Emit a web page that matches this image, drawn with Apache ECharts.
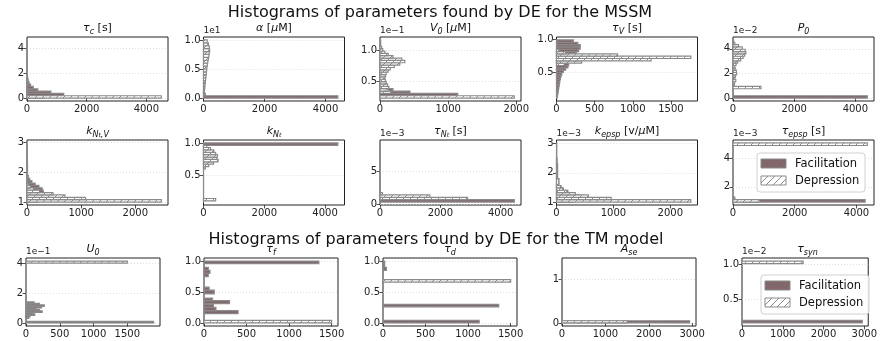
<!DOCTYPE html>
<html><head><meta charset="utf-8">
<script src="https://cdn.jsdelivr.net/npm/echarts@6/dist/echarts.min.js"></script>
<style>html,body{margin:0;padding:0;background:#fff}#c{width:880px;height:341px}</style>
</head><body><div id="c"></div>
<script>
// ---------- DATA (display units, bins as [low, high, count]) ----------
const tauC_fac = [[0,0.186,600],[0.186,0.372,1230],[0.372,0.558,800],[0.558,0.744,360],[0.744,0.93,210],[0.93,1.116,120],[1.116,1.302,70],[1.302,1.488,40],[1.488,1.674,25],[1.674,1.86,12],[1.86,2.046,6],[2.046,2.232,3],[2.232,4.65,1]];
const tauC_dep = [[0,0.186,4500]];
const alpha_fac = [[0,0.04,4400],[0.04,0.08,60],[0.08,0.12,20]];
const alpha_dep = [[0.05,0.1,20],[0.1,0.15,30],[0.15,0.2,40],[0.2,0.25,50],[0.25,0.3,60],[0.3,0.35,70],[0.35,0.4,80],[0.4,0.45,90],[0.45,0.5,100],[0.5,0.55,110],[0.55,0.6,125],[0.6,0.65,140],[0.65,0.7,160],[0.7,0.75,175],[0.75,0.8,190],[0.8,0.85,200],[0.85,0.9,190],[0.9,0.95,160],[0.95,1.0,120]];
const v0_fac = [[0.262,0.3,1140],[0.3,0.338,440],[0.338,0.376,190],[0.376,0.414,80],[0.414,0.452,40]];
const v0_dep = [[0.224,0.262,1970],[0.3,0.338,160],[0.338,0.376,120],[0.376,0.414,130],[0.414,0.452,110],[0.452,0.49,90],[0.49,0.528,80],[0.528,0.566,70],[0.566,0.604,80],[0.604,0.642,90],[0.642,0.68,120],[0.68,0.718,150],[0.718,0.756,210],[0.756,0.794,290],[0.794,0.832,364],[0.832,0.87,320],[0.87,0.908,190],[0.908,0.946,120],[0.946,0.984,70],[0.984,1.022,40],[1.022,1.06,25],[1.06,1.163,10]];
const tauV_fac = [[0.119,0.154,10],[0.154,0.189,15],[0.189,0.224,20],[0.224,0.259,25],[0.259,0.294,30],[0.294,0.329,35],[0.329,0.364,40],[0.364,0.398,45],[0.398,0.433,50],[0.433,0.468,60],[0.468,0.503,70],[0.503,0.538,90],[0.538,0.573,120],[0.573,0.608,150],[0.608,0.643,160],[0.643,0.678,150],[0.678,0.713,180],[0.713,0.748,200],[0.748,0.783,230],[0.783,0.817,260],[0.817,0.852,290],[0.852,0.887,310],[0.887,0.922,310],[0.922,0.957,280],[0.957,0.992,220]];
const tauV_dep = [[0.608,0.643,100],[0.643,0.678,330],[0.678,0.713,1240],[0.713,0.748,1760],[0.748,0.783,800],[0.783,0.817,120],[0.817,0.852,40]];
const p0_fac = [[0,0.19,4390]];
const p0_dep = [[0.76,0.95,915],[0.95,1.14,40],[1.14,1.33,50],[1.33,1.51,90],[1.51,1.7,60],[1.7,1.89,80],[1.89,2.08,120],[2.08,2.27,110],[2.27,2.46,70],[2.46,2.65,60],[2.65,2.84,100],[2.84,3.03,150],[3.03,3.22,250],[3.22,3.4,330],[3.4,3.59,380],[3.59,3.78,420],[3.78,3.97,400],[3.97,4.16,300],[4.16,4.35,180],[4.35,4.54,60],[4.54,4.73,20]];
const kNtV_fac = [[1.0,1.08,200],[1.08,1.16,350],[1.16,1.24,330],[1.24,1.32,310],[1.32,1.4,300],[1.4,1.48,280],[1.48,1.56,220],[1.56,1.64,150],[1.64,1.72,90],[1.72,1.8,50],[1.8,1.9,25],[1.9,2.3,10],[2.3,2.8,4]];
const kNtV_dep = [[1.0,1.08,2480],[1.08,1.16,1080],[1.16,1.24,700],[1.24,1.32,480],[1.32,1.4,230],[1.4,1.48,120],[1.48,1.56,60],[1.56,1.64,30],[1.64,1.8,15],[1.8,2.6,5],[2.6,2.99,2]];
const kNt_fac = [[0.967,1.004,4420],[0.086,0.967,3]];
const kNt_dep = [[0.104,0.141,400],[0.6,0.637,60],[0.637,0.674,170],[0.674,0.711,330],[0.711,0.748,480],[0.748,0.785,440],[0.785,0.822,460],[0.822,0.859,400],[0.859,0.896,340],[0.896,0.933,230],[0.933,0.967,110]];
const tauNt_fac = [[0.34,0.695,4450],[0.695,9.2,3]];
const tauNt_dep = [[0.695,1.05,2900],[1.05,1.405,1650],[1.405,1.76,80]];
const kEpsp_fac = [[1.01,1.09,300],[1.09,1.17,500],[1.17,1.25,400],[1.25,1.33,300],[1.33,1.41,200],[1.41,1.49,120],[1.49,1.57,80],[1.57,1.8,40],[1.8,2.5,10]];
const kEpsp_dep = [[1.01,1.09,2360],[1.09,1.17,960],[1.17,1.25,560],[1.25,1.33,330],[1.33,1.41,180],[1.41,1.49,110],[1.49,1.57,70],[1.57,1.8,40],[1.8,2.3,20],[2.3,3.01,5]];
const tauEpsp_fac = [[0.93,1.1,4280],[1.1,1.27,60]];
const tauEpsp_dep = [[4.9,5.08,4350],[0.93,1.1,870]];
const u0_fac = [[0,0.1,1890],[0.3,0.4,40],[0.4,0.5,60],[0.5,0.6,130],[0.6,0.7,100],[0.7,0.8,240],[0.8,0.9,200],[0.9,1.0,150],[1.0,1.1,230],[1.1,1.2,270],[1.2,1.3,200],[1.3,1.4,120]];
const u0_dep = [[4.0,4.13,1500]];
const tauF_fac = [[0.96,1.0,1350],[0.15,0.2,400],[0.2,0.25,140],[0.25,0.3,110],[0.31,0.36,300],[0.36,0.4,100],[0.47,0.53,120],[0.53,0.58,60],[0.75,0.8,50],[0.8,0.85,70],[0.85,0.9,50]];
const tauF_dep = [[0,0.04,1500]];
const tauD_fac = [[0,0.04,1130],[0.26,0.3,1360],[0.85,0.9,40],[0.9,1.0,20]];
const tauD_dep = [[0.66,0.7,1500]];
const aSe_fac = [[0,0.05,2940],[0.05,1.43,5]];
const aSe_dep = [[0,0.05,1500]];
const tauSyn_fac = [[0.165,0.2,2950]];
const tauSyn_dep = [[1.01,1.045,1500]];

// ticks
const xt_4k = [0,2000,4000], xt_2k = [0,1000,2000], xt_15 = [0,500,1000,1500], xt_3k = [0,1000,2000,3000];
const yt_024 = [0,2,4], yt_01 = [0,0.5,1.0], yt_051 = [0.5,1.0], yt_123 = [1,2,3], yt_05 = [0,5], yt_24 = [2,4], yt_0_1 = [0,1];

const panels = [
  {t:'{i|τ}{s|c}{n| [s]}', e:'', fac:tauC_fac, dep:tauC_dep, xt:xt_4k, yt:yt_024, d:0},
  {t:'{i|α}{n| [}{i|μ}{n|M]}', e:'1e1', fac:alpha_fac, dep:alpha_dep, xt:xt_4k, yt:yt_01, d:1},
  {t:'{i|V}{s|0}{n| [}{i|μ}{n|M]}', e:'1e−1', fac:v0_fac, dep:v0_dep, xt:xt_2k, yt:yt_051, d:1},
  {t:'{i|τ}{s|V}{n| [s]}', e:'', fac:tauV_fac, dep:tauV_dep, xt:xt_15, yt:yt_051, d:1},
  {t:'{i|P}{s|0}', e:'1e−2', fac:p0_fac, dep:p0_dep, xt:xt_4k, yt:yt_024, d:0},
  {t:'{i|k}{s|N}{ss|t}{s|,V}', e:'', fac:kNtV_fac, dep:kNtV_dep, xt:xt_2k, yt:yt_123, d:0},
  {t:'{i|k}{s|N}{ss|t}', e:'', fac:kNt_fac, dep:kNt_dep, xt:xt_4k, yt:yt_051, d:1},
  {t:'{i|τ}{s|N}{ss|t}{n| [s]}', e:'1e−3', fac:tauNt_fac, dep:tauNt_dep, xt:xt_4k, yt:yt_05, d:0},
  {t:'{i|k}{s|epsp}{n| [v/}{i|μ}{n|M]}', e:'1e−3', fac:kEpsp_fac, dep:kEpsp_dep, xt:xt_2k, yt:yt_123, d:0},
  {t:'{i|τ}{s|epsp}{n| [s]}', e:'1e−3', fac:tauEpsp_fac, dep:tauEpsp_dep, xt:xt_4k, yt:yt_24, d:0, legend:[-117, 13]},
  {t:'{i|U}{s|0}', e:'1e−1', fac:u0_fac, dep:u0_dep, xt:xt_15, yt:yt_024, d:0},
  {t:'{i|τ}{s|f}', e:'', fac:tauF_fac, dep:tauF_dep, xt:xt_15, yt:yt_01, d:1},
  {t:'{i|τ}{s|d}', e:'', fac:tauD_fac, dep:tauD_dep, xt:xt_15, yt:yt_01, d:1},
  {t:'{i|A}{s|se}', e:'', fac:aSe_fac, dep:aSe_dep, xt:xt_3k, yt:yt_0_1, d:0},
  {t:'{i|τ}{s|syn}', e:'1e−2', fac:tauSyn_fac, dep:tauSyn_dep, xt:xt_3k, yt:yt_051, d:1, legend:[-112, 17]},
];

// ---------- layout ----------
const FONT = 'DejaVu Sans';
const rowsTop = [37, 140, 258], rowsH = [64, 65, 68];
const colLeft12 = [27, 203.5, 380, 556.5, 733], w12 = [141,141,141,141,141];
const colLeft3 = [26, 204, 383, 562, 742], w3 = [134,134,134,134,131];

function hatch(bg, line, dir){
  const s = 7, c = document.createElement('canvas'); c.width = s; c.height = s;
  const g = c.getContext('2d');
  g.fillStyle = bg; g.fillRect(0,0,s,s);
  g.strokeStyle = line; g.lineWidth = 1;
  g.beginPath();
  for (let k=-1;k<=1;k++){
    if (dir>0){ g.moveTo(k*s, s); g.lineTo(k*s+s, 0); }
    else { g.moveTo(k*s, 0); g.lineTo(k*s+s, s); }
  }
  g.stroke();
  return {image:c, repeat:'repeat'};
}
const facFill = hatch('#85666a', '#6e6a6a', -1);
const depFill = hatch('#ffffff', '#8a8a8a', 1);
const EDGE = '#8a8a8a';

const grids=[], xAxes=[], yAxes=[], series=[], graphics=[];
const rich = {
  n:{fontFamily:FONT,fontSize:11,lineHeight:15,verticalAlign:'middle',fill:'#111'},
  i:{fontFamily:FONT,fontSize:11,fontStyle:'italic',lineHeight:15,verticalAlign:'middle',fill:'#111'},
  s:{fontFamily:FONT,fontSize:8,fontStyle:'italic',lineHeight:15,verticalAlign:'bottom',fill:'#111'},
  ss:{fontFamily:FONT,fontSize:6,fontStyle:'italic',lineHeight:15,verticalAlign:'bottom',fill:'#111'}
};

function rectRender(fill){
  return function(params, api){
    const lo = api.value(0), hi = api.value(1), n = api.value(2);
    const a = api.coord([0, lo]), b = api.coord([n, hi]);
    return {type:'rect', shape:{x:a[0], y:b[1], width:b[0]-a[0], height:a[1]-b[1]},
      style:{fill:fill, stroke:EDGE, lineWidth:1.2}};
  };
}

panels.forEach((p, idx) => {
  const row = idx < 5 ? 0 : (idx < 10 ? 1 : 2), col = idx % 5;
  const left = row < 2 ? colLeft12[col] : colLeft3[col];
  const width = row < 2 ? w12[col] : w3[col];
  const top = rowsTop[row], height = rowsH[row];
  grids.push({left:left, top:top, width:width, height:height, show:true, borderColor:'#222', borderWidth:1, backgroundColor:'transparent'});
  const all = p.fac.concat(p.dep);
  let lo = Infinity, hi = -Infinity, mx = 0;
  all.forEach(b => { lo = Math.min(lo, b[0]); hi = Math.max(hi, b[1]); mx = Math.max(mx, b[2]); });
  const pad = (hi - lo) * 0.05;
  xAxes.push({gridIndex:idx, type:'value', min:0, max:mx*1.05,
    axisLine:{show:false}, splitLine:{show:false},
    axisTick:{show:true, customValues:p.xt, length:3.5, inside:false, lineStyle:{color:'#222', width:0.8}},
    axisLabel:{customValues:p.xt, fontFamily:FONT, fontSize:10, color:'#222', margin:3, formatter:v=>String(Math.round(v))}});
  yAxes.push({gridIndex:idx, type:'value', min:lo-pad, max:hi+pad,
    axisLine:{show:false}, splitLine:{show:false},
    axisTick:{show:true, customValues:p.yt, length:3.5, inside:false, lineStyle:{color:'#222', width:0.8}},
    axisLabel:{customValues:p.yt, fontFamily:FONT, fontSize:10, color:'#222', margin:3, formatter:v=>v.toFixed(p.d)}});
  series.push({type:'custom', xAxisIndex:idx, yAxisIndex:idx, data:p.fac, encode:{x:2, y:[0,1]},
    renderItem:rectRender(facFill), silent:true, z:2,
    markLine:{silent:true, symbol:'none', label:{show:false}, z:1,
      lineStyle:{type:[1,2], color:'#d6d6d6', width:0.8},
      data:p.yt.map(v=>({yAxis:v}))}});
  series.push({type:'custom', xAxisIndex:idx, yAxisIndex:idx, data:p.dep, encode:{x:2, y:[0,1]},
    renderItem:rectRender(depFill), silent:true, z:3});
  graphics.push({type:'text', x:left+width/2, y:top-1.5, style:{text:p.t, rich:rich, align:'center', verticalAlign:'bottom'}});
  if (p.e) graphics.push({type:'text', x:left, y:top-2, style:{text:p.e, font:'9px "DejaVu Sans"', fill:'#222', align:'left', verticalAlign:'bottom'}});
  if (p.legend){
    const lx = left + width + p.legend[0], ly = top + p.legend[1];
    graphics.push({type:'rect', x:lx, y:ly, shape:{width:108, height:39, r:3}, style:{fill:'rgba(255,255,255,0.85)', stroke:'#d0d0d0', lineWidth:1}, z:100});
    graphics.push({type:'rect', x:lx+4, y:ly+6, shape:{width:25, height:9}, style:{fill:facFill, stroke:EDGE, lineWidth:1}, z:101});
    graphics.push({type:'rect', x:lx+4, y:ly+23, shape:{width:25, height:9}, style:{fill:depFill, stroke:EDGE, lineWidth:1}, z:101});
    graphics.push({type:'text', x:lx+38, y:ly+11, style:{text:'Facilitation', font:'11.5px "DejaVu Sans"', fill:'#111', verticalAlign:'middle'}, z:101});
    graphics.push({type:'text', x:lx+38, y:ly+28, style:{text:'Depression', font:'11.5px "DejaVu Sans"', fill:'#111', verticalAlign:'middle'}, z:101});
  }
});

graphics.push({type:'text', x:440, y:13, style:{text:'Histograms of parameters found by DE for the MSSM', font:'16px "DejaVu Sans"', fill:'#111', align:'center', verticalAlign:'middle'}});
graphics.push({type:'text', x:436, y:240, style:{text:'Histograms of parameters found by DE for the TM model', font:'16px "DejaVu Sans"', fill:'#111', align:'center', verticalAlign:'middle'}});

const chart = echarts.init(document.getElementById('c'), null, {renderer:'canvas'});
chart.setOption({animation:false, backgroundColor:'#fff', grid:grids, xAxis:xAxes, yAxis:yAxes, series:series, graphic:graphics});
</script></body></html>
